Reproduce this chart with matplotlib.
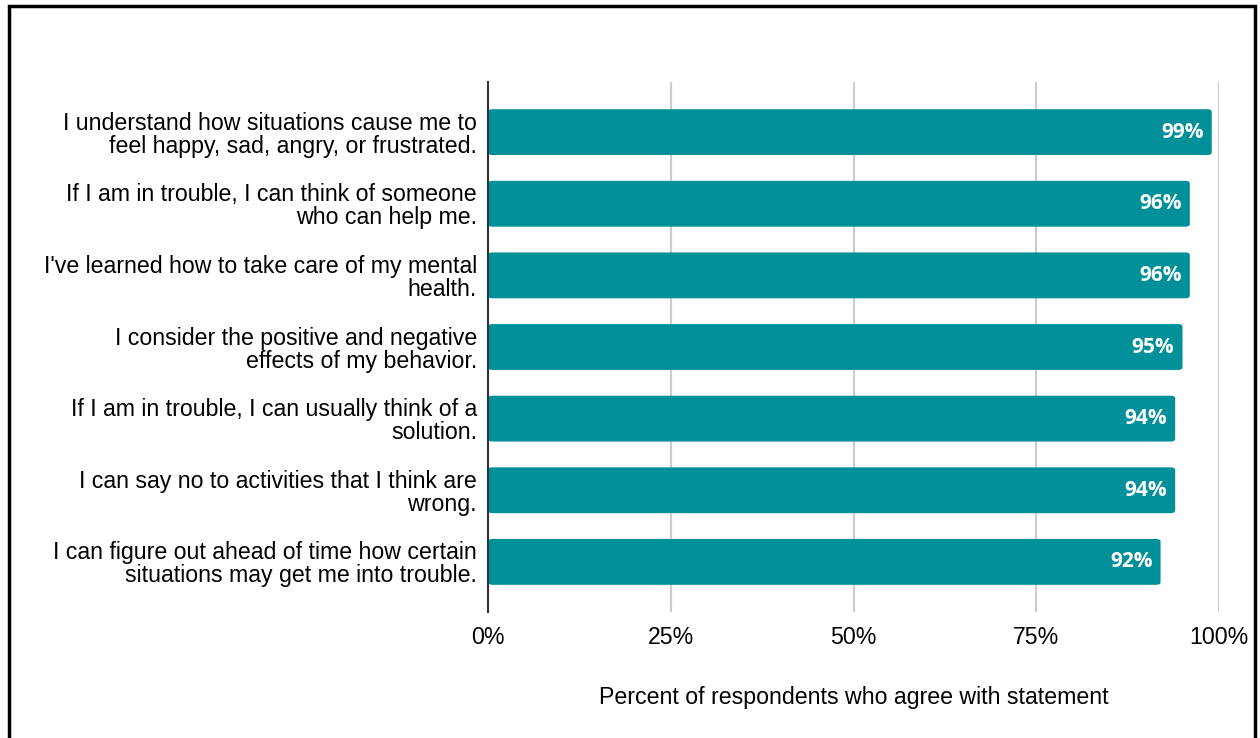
import matplotlib.pyplot as plt
from matplotlib.patches import Rectangle, FancyBboxPatch

# Survey statements (top to bottom) and percent agreeing
statements = [
    "I understand how situations cause me to\nfeel happy, sad, angry, or frustrated.",
    "If I am in trouble, I can think of someone\nwho can help me.",
    "I've learned how to take care of my mental\nhealth.",
    "I consider the positive and negative\neffects of my behavior.",
    "If I am in trouble, I can usually think of a\nsolution.",
    "I can say no to activities that I think are\nwrong.",
    "I can figure out ahead of time how certain\nsituations may get me into trouble.",
]
percent = [99, 96, 96, 95, 94, 94, 92]
x_ticks = [0, 25, 50, 75, 100]
x_tick_labels = ["0%", "25%", "50%", "75%", "100%"]

bar_color = "#00909a"

fig = plt.figure(figsize=(12.6, 7.38), dpi=100)
ax = fig.add_axes([0.3873, 0.1707, 0.5802, 0.7182])

ypos = list(range(len(statements)))
height = 0.64
for y, val in zip(ypos, percent):
    ax.add_patch(FancyBboxPatch((0, y - height / 2), val, height,
                                boxstyle="round,pad=0,rounding_size=0.6",
                                mutation_aspect=0.06,
                                facecolor=bar_color, edgecolor="none", zorder=3))
    ax.text(val - 1.1, y, f"{val}%", ha="right", va="center", color="white",
            fontsize=15, fontweight="bold", family="Open Sans", zorder=4)

ax.set_xlim(0, 100)
ax.set_ylim(len(statements) - 0.3, -0.7)
ax.set_yticks(ypos)
ax.set_yticklabels(statements, fontsize=16.7, family="Liberation Sans",
                   linespacing=1.0)
ax.set_xticks(x_ticks)
ax.set_xticklabels(x_tick_labels, fontsize=16.7, family="Liberation Sans")
ax.tick_params(axis="y", length=0, pad=8)
ax.tick_params(axis="x", length=0, pad=10)
ax.grid(axis="x", color="#cccccc", linewidth=1.5, zorder=0)
for side in ["top", "right", "bottom"]:
    ax.spines[side].set_visible(False)
ax.spines["left"].set_color("#333333")
ax.spines["left"].set_linewidth(1.5)
ax.spines["left"].set_zorder(5)

ax.set_xlabel("Percent of respondents who agree with statement", fontsize=16.7,
              family="Liberation Sans", labelpad=27)

# black frame around the chart
fig.add_artist(Rectangle((0.0075, -0.1), 0.9885, 1.0925, transform=fig.transFigure,
                         fill=False, edgecolor="black", linewidth=2.5,
                         clip_on=False))

fig.savefig("out.png", dpi=100)
